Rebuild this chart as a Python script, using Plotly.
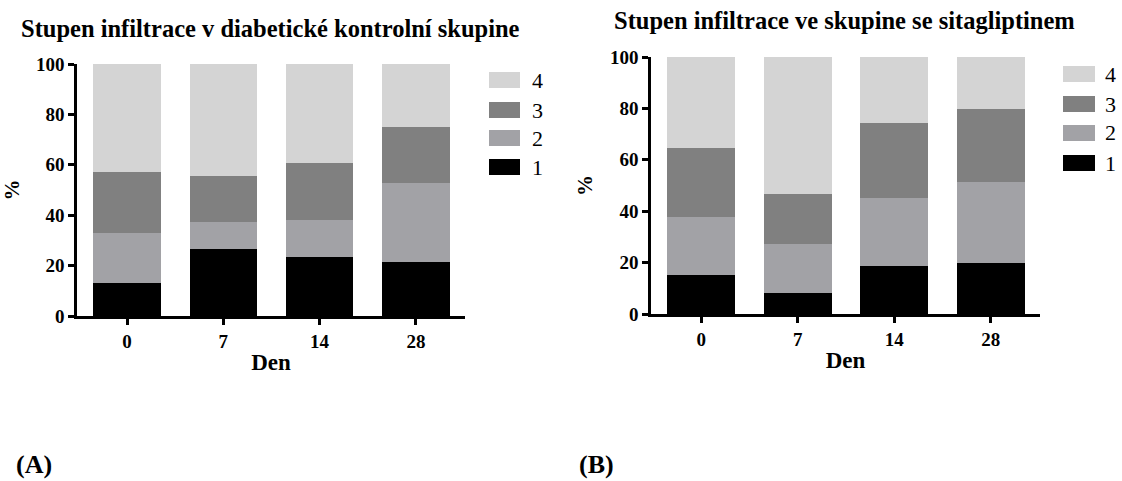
import plotly.graph_objects as go
from plotly.subplots import make_subplots

days = ["0", "7", "14", "28"]
grades = ["1", "2", "3", "4"]

# Chart A: diabetic control group (% per grade)
ctrl_g1 = [13.2, 26.6, 23.3, 21.5]
ctrl_g2 = [19.6, 10.8, 14.7, 31.1]
ctrl_g3 = [24.2, 18.2, 22.7, 22.6]
ctrl_g4 = [43.0, 44.4, 39.3, 24.8]

# Chart B: sitagliptin group (% per grade)
sita_g1 = [15.2, 8.1, 18.8, 19.9]
sita_g2 = [22.6, 19.1, 26.4, 31.5]
sita_g3 = [26.9, 19.4, 29.1, 28.4]
sita_g4 = [35.3, 53.4, 25.7, 20.2]

title_a = "Stupen infiltrace v diabetické kontrolní skupine"
title_b = "Stupen infiltrace ve skupine se sitagliptinem"
y_ticks = [0, 20, 40, 60, 80, 100]

colors = ["#000000", "#a2a2a6", "#808080", "#d4d4d4"]

W, H = 1122, 481
FONT = "Liberation Serif, Times New Roman, serif"

fig = make_subplots(rows=1, cols=2)

ctrl = [ctrl_g1, ctrl_g2, ctrl_g3, ctrl_g4]
sita = [sita_g1, sita_g2, sita_g3, sita_g4]
for col, data in ((1, ctrl), (2, sita)):
    for g, vals, c in zip(grades, data, colors):
        fig.add_trace(go.Bar(x=days, y=vals, name=g, marker=dict(color=c, line=dict(width=0)),
                             showlegend=False), row=1, col=col)

def px_x(p):
    return p / W

def px_y(p):
    return 1 - p / H

axis_common = dict(showline=True, linecolor="black", linewidth=2.5, ticks="outside",
                   tickwidth=2.5, ticklen=6, tickcolor="black", showgrid=False, zeroline=False,
                   automargin=False,
                   tickfont=dict(family=FONT, size=19, color="black", weight="bold"))

fig.update_xaxes(**axis_common, type="category", range=[-0.52, 3.51],
                 title=dict(text="<b>Den</b>", font=dict(family=FONT, size=23, color="black"), standoff=4))
fig.update_yaxes(**axis_common, range=[0, 100], tickvals=y_ticks,
                 title=dict(text="<b>%</b>", font=dict(family=FONT, size=21, color="black"), standoff=12))

fig.update_layout(
    xaxis=dict(domain=[px_x(77), px_x(465)], anchor="y"),
    yaxis=dict(domain=[px_y(316), px_y(64)], anchor="x"),
    xaxis2=dict(domain=[px_x(651), px_x(1040)], anchor="y2"),
    yaxis2=dict(domain=[px_y(314), px_y(57)], anchor="x2"),
)

shapes = []
annotations = []
# titles
annotations.append(dict(text="<b>" + title_a + "</b>", x=px_x(270), y=px_y(28), xref="paper", yref="paper",
                        showarrow=False, xanchor="center", yanchor="middle",
                        font=dict(family=FONT, size=24.5, color="black")))
annotations.append(dict(text="<b>" + title_b + "</b>", x=px_x(844), y=px_y(21), xref="paper", yref="paper",
                        showarrow=False, xanchor="center", yanchor="middle",
                        font=dict(family=FONT, size=24.5, color="black")))
# panel labels
annotations.append(dict(text="<b>(A)</b>", x=px_x(14), y=px_y(464), xref="paper", yref="paper",
                        showarrow=False, xanchor="left", yanchor="middle",
                        font=dict(family=FONT, size=26, color="black")))
annotations.append(dict(text="<b>(B)</b>", x=px_x(577), y=px_y(464), xref="paper", yref="paper",
                        showarrow=False, xanchor="left", yanchor="middle",
                        font=dict(family=FONT, size=26, color="black")))

# legends (drawn manually, top to bottom: 4,3,2,1)
legend_specs = [(489, 520, [80, 110, 138, 167], 537), (1063, 1095, [74, 104, 133, 163], 1110)]
for x0, x1, ycs, xl in legend_specs:
    for yc, g, c in zip(ycs, grades[::-1], colors[::-1]):
        shapes.append(dict(type="rect", xref="paper", yref="paper", x0=px_x(x0), x1=px_x(x1),
                           y0=px_y(yc + 8), y1=px_y(yc - 8), fillcolor=c, line=dict(width=0)))
        annotations.append(dict(text=g, x=px_x(xl), y=px_y(yc), xref="paper", yref="paper",
                                showarrow=False, xanchor="center", yanchor="middle",
                                font=dict(family=FONT, size=22, color="black")))

fig.update_layout(
    barmode="stack", bargap=0.3,
    width=W, height=H, margin=dict(l=0, r=0, t=0, b=0, pad=0, autoexpand=False),
    paper_bgcolor="white", plot_bgcolor="white",
    shapes=shapes, annotations=annotations, showlegend=False,
)

fig.write_html("out.html")
